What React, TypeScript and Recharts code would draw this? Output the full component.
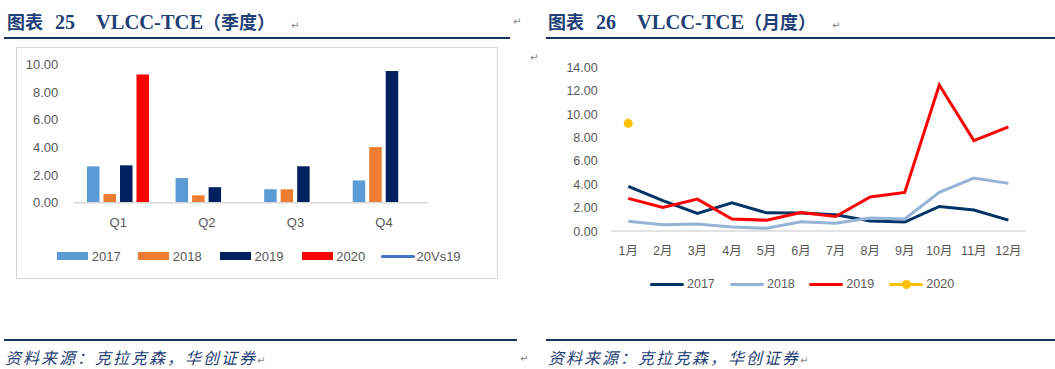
import React from 'react';
import { ComposedChart, LineChart, Bar, Line, XAxis, YAxis } from 'recharts';

// ---------- Data: chart 25 (quarterly) ----------
const quarters = ['Q1', 'Q2', 'Q3', 'Q4'];
const q2017 = [2.63, 1.78, 0.97, 1.61];
const q2018 = [0.63, 0.53, 0.97, 4.02];
const q2019 = [2.70, 1.12, 2.63, 9.51];
const q2020: (number | null)[] = [9.27, null, null, null];
const q20vs19: (number | null)[] = [null, null, null, null];
const leftTicks = [0, 2, 4, 6, 8, 10];
const rightTicks = [0, 50, 100, 150, 200, 250, 300];

// ---------- Data: chart 26 (monthly) ----------
const months = ['1月', '2月', '3月', '4月', '5月', '6月', '7月', '8月', '9月', '10月', '11月', '12月'];
const m2017 = [3.82, 2.60, 1.52, 2.41, 1.56, 1.55, 1.40, 0.86, 0.77, 2.11, 1.80, 0.94];
const m2018 = [0.85, 0.55, 0.61, 0.35, 0.24, 0.79, 0.68, 1.11, 1.03, 3.31, 4.53, 4.08];
const m2019 = [2.80, 2.02, 2.73, 1.04, 0.93, 1.58, 1.25, 2.91, 3.31, 12.49, 7.73, 8.90];
const m2020: (number | null)[] = [9.21, null, null, null, null, null, null, null, null, null, null, null];
const monthTicks = [0, 2, 4, 6, 8, 10, 12, 14];

const barSeries = [
  { key: 's2017', name: '2017', color: '#5B9BD5' },
  { key: 's2018', name: '2018', color: '#ED7D31' },
  { key: 's2019', name: '2019', color: '#002060' },
  { key: 's2020', name: '2020', color: '#FF0000' },
];
const ratioSeries = { key: 'r', name: '20Vs19', color: '#4472C4' };

const lineSeries = [
  { key: 'l2017', name: '2017', color: '#003366' },
  { key: 'l2018', name: '2018', color: '#95B3D7' },
  { key: 'l2019', name: '2019', color: '#FF0000' },
  { key: 'l2020', name: '2020', color: '#FFC000' },
];

const quarterData = quarters.map((q, i) => ({
  q,
  s2017: q2017[i],
  s2018: q2018[i],
  s2019: q2019[i],
  s2020: q2020[i],
  r: q20vs19[i],
}));

const monthData = months.map((m, i) => ({
  m,
  l2017: m2017[i],
  l2018: m2018[i],
  l2019: m2019[i],
  l2020: m2020[i],
}));

const NAVY = '#1F3F77';
const RULE = '#17375E';
const GREY = '#595959';
const AX_FONT = '"Liberation Sans", Arial, "Noto Sans CJK SC", sans-serif';
const LATIN_SERIF = '"Liberation Serif", "Times New Roman", serif';
const CJK = '"Noto Sans CJK SC", sans-serif';

const Title = ({ left, num, text, paren }: { left: number; num: string; text: string; paren: string }) => (
  <div style={{ position: 'absolute', left, top: 9, height: 24, lineHeight: '24px', whiteSpace: 'nowrap', color: NAVY, fontWeight: 700 }}>
    <span style={{ fontFamily: CJK, fontSize: 18 }}>图表</span>
    <span style={{ fontFamily: LATIN_SERIF, fontSize: 20, marginLeft: 12 }}>{num}</span>
    <span style={{ fontFamily: LATIN_SERIF, fontSize: 20.5, marginLeft: 21 }}>{text}</span>
    <span style={{ fontFamily: CJK, fontSize: 18 }}>{paren}</span>
    <span style={{ fontFamily: '"DejaVu Sans", sans-serif', fontSize: 10, color: '#808080', fontWeight: 400, marginLeft: 16 }}>↵</span>
  </div>
);

const Rule = ({ left, width, top }: { left: number; width: number; top: number }) => (
  <div style={{ position: 'absolute', left, top, width, height: 2.3, background: RULE }} />
);

const Footer = ({ left }: { left: number }) => (
  <div style={{ position: 'absolute', left, top: 346, height: 22, lineHeight: '22px', whiteSpace: 'nowrap' }}>
    <span style={{ fontFamily: CJK, fontStyle: 'italic', fontSize: 16, letterSpacing: 2, color: NAVY }}>资料来源：克拉克森，华创证券</span>
    <span style={{ fontFamily: '"DejaVu Sans", sans-serif', fontSize: 10, color: '#808080' }}>↵</span>
  </div>
);

const Mark = ({ left, top }: { left: number; top: number }) => (
  <div style={{ position: 'absolute', left, top, fontFamily: '"DejaVu Sans", sans-serif', fontSize: 10, color: '#808080', lineHeight: '12px' }}>↵</div>
);

export default function App() {
  return (
    <div style={{ position: 'absolute', left: 0, top: 0, width: 1055, height: 369, background: '#fff', overflow: 'hidden' }}>
      {/* headers */}
      <Title left={7} num="25" text="VLCC-TCE" paren="（季度）" />
      <Title left={548} num="26" text="VLCC-TCE" paren="（月度）" />
      <Mark left={513} top={16} />
      <Rule left={4} width={506} top={36.7} />
      <Rule left={546} width={509} top={36.7} />
      <Mark left={530} top={52} />

      {/* chart 25 box */}
      <div style={{ position: 'absolute', left: 15.5, top: 46.5, width: 482, height: 232, border: '1px solid #D9D9D9', boxSizing: 'border-box' }} />
      <div style={{ position: 'absolute', left: 16, top: 47 }}>
        <ComposedChart width={482} height={232} data={quarterData} margin={{ top: 17.3, right: 0, left: 0, bottom: 46.3 }}>
          <XAxis dataKey="q" xAxisId={0} axisLine={{ stroke: '#D9D9D9', strokeWidth: 1.5 }} tickLine={false} tickSize={0} tickMargin={15.4} height={30}
            tick={{ fill: GREY, fontSize: 13, fontFamily: AX_FONT }} />
          <YAxis yAxisId="left" orientation="left" width={58} domain={[0, 10]} ticks={leftTicks} axisLine={false} tickLine={false} tickSize={0} tickMargin={15.7}
            tickFormatter={(v: number) => v.toFixed(2)} tick={{ fill: GREY, fontSize: 13, fontFamily: AX_FONT }} />
          <YAxis yAxisId="right" orientation="right" width={69.7} domain={[0, 300]} ticks={rightTicks} axisLine={false} tickLine={false} tickSize={0} tickMargin={14.7}
            tickFormatter={(v: number) => v.toFixed(1) + '%'} tick={{ fill: GREY, fontSize: 13, fontFamily: AX_FONT }} />
          {barSeries.map((s) => (
            <Bar key={s.key} dataKey={s.key} name={s.name} yAxisId="left" fill={s.color} barSize={12.5} isAnimationActive={false} />
          ))}
          <Line dataKey={ratioSeries.key} name={ratioSeries.name} yAxisId="right" stroke={ratioSeries.color} strokeWidth={3} dot={false} isAnimationActive={false} />
        </ComposedChart>
      </div>
      {/* legend chart 25 */}
      {barSeries.map((s, i) => {
        const lefts = [57.3, 138.3, 220, 301.7];
        return (
          <div key={s.key} style={{ position: 'absolute', left: lefts[i], top: 246, height: 20, display: 'flex', alignItems: 'center' }}>
            <div style={{ width: 31, height: 8.4, background: s.color }} />
            <span style={{ marginLeft: 3.5, fontFamily: AX_FONT, fontSize: 13, color: GREY }}>{s.name}</span>
          </div>
        );
      })}
      <div style={{ position: 'absolute', left: 381, top: 246, height: 20, display: 'flex', alignItems: 'center' }}>
        <div style={{ width: 34, height: 3, background: ratioSeries.color, borderRadius: 1.5 }} />
        <span style={{ marginLeft: 1.5, fontFamily: AX_FONT, fontSize: 13, color: GREY }}>{ratioSeries.name}</span>
      </div>

      {/* chart 26 */}
      <div style={{ position: 'absolute', left: 540, top: 50 }}>
        <LineChart width={510} height={260} data={monthData} margin={{ top: 17.3, right: 24.3, left: 0, bottom: 48.9 }}>
          <XAxis dataKey="m" scale="band" axisLine={{ stroke: '#D9D9D9', strokeWidth: 1.5 }} tickLine={false} tickSize={0} tickMargin={15.4} height={30} interval={0}
            tick={{ fill: GREY, fontSize: 12.5, fontFamily: AX_FONT }} />
          <YAxis width={71} domain={[0, 14]} ticks={monthTicks} axisLine={false} tickLine={false} tickSize={0} tickMargin={13.3}
            tickFormatter={(v: number) => v.toFixed(2)} tick={{ fill: GREY, fontSize: 12.5, fontFamily: AX_FONT }} />
          {lineSeries.slice(0, 3).map((s) => (
            <Line key={s.key} dataKey={s.key} name={s.name} stroke={s.color} strokeWidth={3} dot={false} isAnimationActive={false} />
          ))}
          <Line dataKey={lineSeries[3].key} name={lineSeries[3].name} stroke={lineSeries[3].color} strokeWidth={3}
            dot={{ r: 4.5, fill: lineSeries[3].color, stroke: 'none' }} isAnimationActive={false} />
        </LineChart>
      </div>
      {/* legend chart 26 */}
      {lineSeries.map((s, i) => {
        const lefts = [650, 730, 809.3, 889.3];
        return (
          <div key={s.key} style={{ position: 'absolute', left: lefts[i], top: 274.3, height: 20, display: 'flex', alignItems: 'center' }}>
            <div style={{ position: 'relative', width: 34, height: 3, background: s.color, borderRadius: 1.5 }}>
              {s.key === 'l2020' && (
                <div style={{ position: 'absolute', left: 12.5, top: -3, width: 9, height: 9, borderRadius: 4.5, background: s.color }} />
              )}
            </div>
            <span style={{ marginLeft: 3, fontFamily: AX_FONT, fontSize: 12.5, color: GREY }}>{s.name}</span>
          </div>
        );
      })}

      {/* footers */}
      <Rule left={4} width={513} top={339} />
      <Rule left={546} width={509} top={339} />
      <Footer left={5} />
      <Mark left={520} top={353} />
      <Footer left={548} />
    </div>
  );
}
